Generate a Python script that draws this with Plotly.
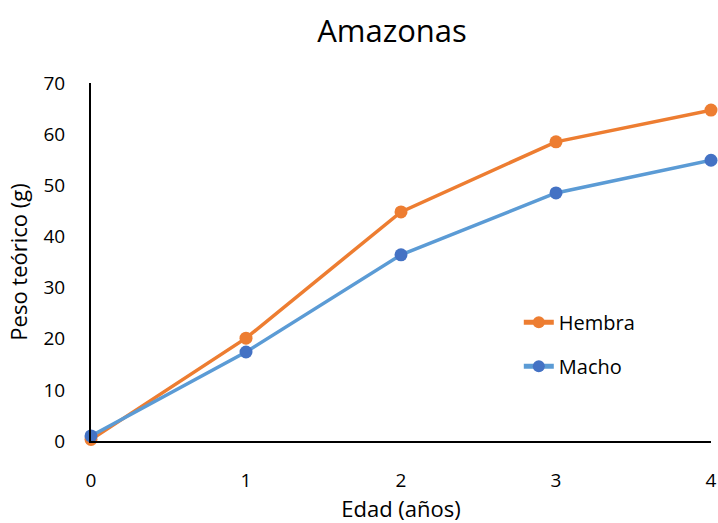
import plotly.graph_objects as go

edad = [0, 1, 2, 3, 4]
hembra = [0.3, 20.1, 44.8, 58.5, 64.7]
macho = [1.0, 17.4, 36.4, 48.5, 54.9]
y_ticks = [0, 10, 20, 30, 40, 50, 60, 70]

FONT = "'Open Sans', Lato, sans-serif"

fig = go.Figure()
fig.add_trace(go.Scatter(x=edad, y=hembra, name="Hembra", mode="lines+markers",
                         legendgroup="h",
                         line=dict(color="#ED7D31", width=3.5),
                         marker=dict(color="#ED7D31", size=13), cliponaxis=False))
fig.add_trace(go.Scatter(x=edad, y=macho, name="Macho", mode="lines+markers",
                         legendgroup="m",
                         line=dict(color="#5B9BD5", width=3.5),
                         marker=dict(color="#4472C4", size=13), cliponaxis=False))

fig.update_layout(
    width=718, height=523,
    margin=dict(l=91, r=7, t=83, b=82, autoexpand=False),
    paper_bgcolor="white", plot_bgcolor="white",
    font=dict(family=FONT, size=19, color="#000000"),
    title=dict(text="Amazonas", x=0.546, xanchor="center", y=0.94, yanchor="middle",
               font=dict(size=31, family=FONT, color="#000000")),
    xaxis=dict(range=[0, 4], tickvals=edad, ticktext=[str(v) for v in edad],
               showline=True, linecolor="black", linewidth=2, showgrid=False,
               zeroline=False, ticks="", automargin=False, ticklabelstandoff=21,
               tickfont=dict(size=19),
               title=dict(text="Edad (años)", standoff=14, font=dict(size=22))),
    yaxis=dict(range=[0, 70], tickvals=y_ticks, showline=True, linecolor="black",
               linewidth=2, showgrid=False, zeroline=False, ticks="", automargin=False,
               ticklabelstandoff=20, tickfont=dict(size=19),
               title=dict(text="Peso teórico (g)", standoff=10, font=dict(size=22))),
    legend=dict(x=0.69, y=0.27, xanchor="left", yanchor="middle",
                bgcolor="rgba(0,0,0,0)", font=dict(size=20), tracegroupgap=15,
                itemsizing="constant"),
    showlegend=True,
)
fig.write_html("out.html")
